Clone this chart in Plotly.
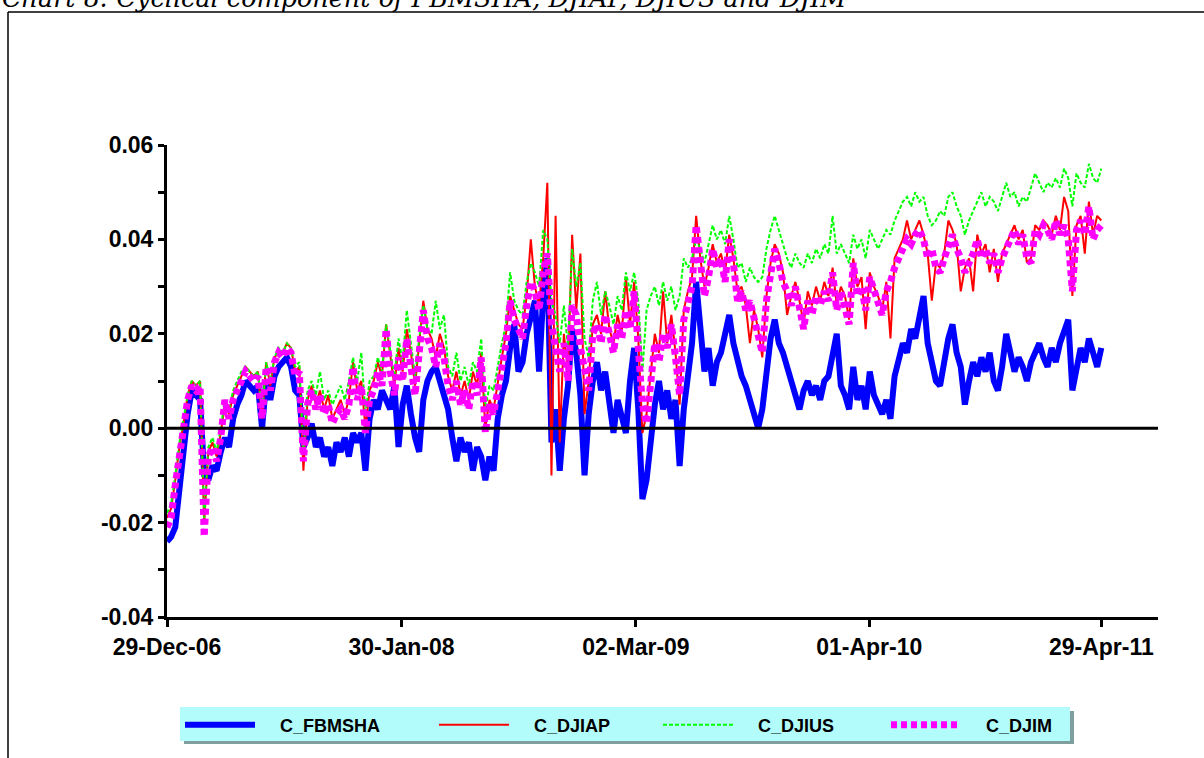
import plotly.graph_objects as go
import pandas as pd

# ---------------- data ----------------
start_date = "2006-12-29"
n_weeks = 227
dates = pd.date_range(start_date, periods=n_weeks, freq="7D")

tick_dates = ["2006-12-29", "2008-01-30", "2009-03-02", "2010-04-01", "2011-04-29"]
tick_labels = ["29-Dec-06", "30-Jan-08", "02-Mar-09", "01-Apr-10", "29-Apr-11"]
y_tick_vals = [-0.04, -0.02, 0.0, 0.02, 0.04, 0.06]
y_tick_labels = ["-0.04", "-0.02", "0.00", "0.02", "0.04", "0.06"]
series_names = ["C_FBMSHA", "C_DJIAP", "C_DJIUS", "C_DJIM"]

c_fbmsha = [
    -0.024, -0.023, -0.021, -0.012, -0.003, 0.003, 0.008, 0.007, 0.006, -0.010,
    -0.011, -0.008, -0.009, -0.005, -0.002, -0.004, 0.002, 0.005, 0.007, 0.010,
    0.009, 0.008, 0.009, 0.000, 0.010, 0.006, 0.011, 0.013, 0.014, 0.015,
    0.013, 0.008, 0.007, -0.004, -0.002, 0.001, -0.004, -0.002, -0.006, -0.004,
    -0.008, -0.003, -0.005, -0.002, -0.006, -0.001, -0.003, -0.001, -0.009, 0.002,
    0.006, 0.004, 0.008, 0.006, 0.004, 0.009, -0.004, 0.005, 0.009, 0.003,
    -0.002, -0.005, 0.006, 0.010, 0.012, 0.013, 0.010, 0.008, 0.004, -0.002,
    -0.007, -0.002, -0.005, -0.003, -0.009, -0.004, -0.006, -0.011, -0.006, -0.009,
    0.002, 0.007, 0.010, 0.017, 0.022, 0.012, 0.014, 0.020, 0.024, 0.027,
    0.012, 0.028, 0.036, -0.003, 0.004, -0.009, 0.002, 0.009, 0.021, 0.016,
    0.007, -0.010, 0.003, 0.010, 0.014, 0.008, 0.012, 0.005, -0.001, 0.006,
    0.003, -0.001, 0.010, 0.017, 0.004, -0.015, -0.011, -0.002, 0.005, 0.010,
    0.004, 0.008, 0.002, 0.006, -0.008, 0.004, 0.010, 0.018, 0.031, 0.020,
    0.012, 0.017, 0.009, 0.014, 0.016, 0.020, 0.024, 0.018, 0.014, 0.011,
    0.009, 0.006, 0.003, 0.000, 0.004, 0.012, 0.019, 0.023, 0.018, 0.016,
    0.013, 0.009, 0.006, 0.004, 0.008, 0.010, 0.007, 0.009, 0.006, 0.010,
    0.011, 0.016, 0.020, 0.009, 0.007, 0.004, 0.013, 0.006, 0.009, 0.004,
    0.012, 0.007, 0.005, 0.003, 0.006, 0.002, 0.011, 0.015, 0.018, 0.016,
    0.021, 0.019, 0.023, 0.028, 0.018, 0.014, 0.010, 0.009, 0.015, 0.019,
    0.022, 0.016, 0.013, 0.005, 0.010, 0.014, 0.011, 0.015, 0.012, 0.016,
    0.010, 0.008, 0.013, 0.020, 0.016, 0.012, 0.015, 0.013, 0.010, 0.014,
    0.016, 0.018, 0.015, 0.013, 0.017, 0.014, 0.018, 0.021, 0.023, 0.008,
    0.013, 0.017, 0.014, 0.019, 0.016, 0.013, 0.017,
]

c_djiap = [
    -0.019, -0.017, -0.011, -0.004, 0.001, 0.007, 0.010, 0.009, 0.010, -0.020,
    -0.005, -0.003, -0.006, -0.001, 0.005, 0.003, 0.007, 0.009, 0.011, 0.013,
    0.012, 0.011, 0.012, 0.002, 0.014, 0.009, 0.015, 0.016, 0.016, 0.018,
    0.017, 0.012, 0.013, -0.009, 0.006, 0.009, 0.005, 0.008, 0.004, 0.007,
    0.002, 0.004, 0.006, 0.003, 0.006, 0.014, 0.008, 0.010, 0.000, 0.008,
    0.010, 0.014, 0.011, 0.022, 0.015, 0.009, 0.017, 0.012, 0.021, 0.016,
    0.009, 0.018, 0.027, 0.021, 0.019, 0.015, 0.020, 0.017, 0.011, 0.008,
    0.012, 0.007, 0.010, 0.006, 0.012, 0.009, 0.016, 0.000, 0.006, 0.004,
    0.010, 0.015, 0.020, 0.028, 0.025, 0.022, 0.021, 0.028, 0.040, 0.030,
    0.026, 0.036, 0.052, -0.010, 0.045, -0.003, 0.020, 0.012, 0.041, 0.025,
    0.037, 0.003, 0.010, 0.022, 0.024, 0.020, 0.029, 0.021, 0.018, 0.024,
    0.020, 0.032, 0.022, 0.031, 0.019, -0.001, 0.003, 0.012, 0.020, 0.016,
    0.029, 0.018, 0.024, 0.016, 0.005, 0.025, 0.029, 0.032, 0.045, 0.036,
    0.030, 0.034, 0.039, 0.035, 0.037, 0.033, 0.041, 0.036, 0.029, 0.030,
    0.026, 0.018, 0.025, 0.021, 0.015, 0.028, 0.035, 0.039, 0.037, 0.033,
    0.024, 0.028, 0.031, 0.027, 0.022, 0.029, 0.026, 0.030, 0.027, 0.031,
    0.028, 0.034, 0.026, 0.030, 0.028, 0.023, 0.036, 0.030, 0.032, 0.021,
    0.033, 0.030, 0.028, 0.025, 0.031, 0.019, 0.036, 0.038, 0.040, 0.044,
    0.040, 0.042, 0.044, 0.041, 0.037, 0.027, 0.035, 0.034, 0.037, 0.044,
    0.042, 0.039, 0.029, 0.034, 0.036, 0.029, 0.041, 0.037, 0.039, 0.033,
    0.038, 0.031, 0.037, 0.039, 0.041, 0.043, 0.040, 0.042, 0.035, 0.036,
    0.043, 0.042, 0.044, 0.043, 0.041, 0.045, 0.042, 0.049, 0.046, 0.028,
    0.043, 0.045, 0.037, 0.048, 0.041, 0.045, 0.044,
]

c_djius = [
    -0.018, -0.016, -0.010, -0.003, 0.002, 0.007, 0.010, 0.009, 0.010, -0.019,
    -0.004, -0.002, -0.005, 0.000, 0.006, 0.004, 0.008, 0.010, 0.012, 0.013,
    0.012, 0.011, 0.012, 0.003, 0.014, 0.010, 0.015, 0.017, 0.016, 0.018,
    0.017, 0.013, 0.014, -0.005, 0.008, 0.010, 0.007, 0.012, 0.006, 0.008,
    0.005, 0.007, 0.009, 0.006, 0.010, 0.015, 0.010, 0.016, 0.003, 0.010,
    0.011, 0.015, 0.012, 0.022, 0.016, 0.011, 0.019, 0.014, 0.025, 0.018,
    0.011, 0.019, 0.026, 0.021, 0.020, 0.027, 0.021, 0.024, 0.013, 0.011,
    0.016, 0.010, 0.013, 0.009, 0.014, 0.012, 0.019, 0.004, 0.009, 0.008,
    0.013, 0.018, 0.022, 0.033, 0.027, 0.025, 0.024, 0.031, 0.035, 0.033,
    0.030, 0.042, 0.040, 0.027, 0.024, 0.018, 0.026, 0.017, 0.038, 0.030,
    0.035, 0.019, 0.015, 0.027, 0.031, 0.024, 0.029, 0.026, 0.022, 0.028,
    0.025, 0.033, 0.029, 0.033, 0.027, 0.012, 0.025, 0.028, 0.030, 0.026,
    0.031, 0.027, 0.030, 0.025, 0.028, 0.036, 0.034, 0.036, 0.040, 0.038,
    0.035, 0.039, 0.043, 0.040, 0.042, 0.039, 0.045, 0.040, 0.034, 0.035,
    0.031, 0.034, 0.032, 0.031, 0.032, 0.038, 0.042, 0.045, 0.042, 0.039,
    0.036, 0.034, 0.037, 0.035, 0.034, 0.037, 0.035, 0.038, 0.036, 0.039,
    0.037, 0.045, 0.037, 0.039, 0.037, 0.035, 0.041, 0.038, 0.040, 0.036,
    0.042, 0.040, 0.038, 0.040, 0.042, 0.041, 0.044, 0.046, 0.048, 0.049,
    0.047, 0.050, 0.048, 0.049, 0.045, 0.043, 0.044, 0.046, 0.045, 0.049,
    0.050, 0.047, 0.045, 0.041, 0.044, 0.046, 0.048, 0.050, 0.047, 0.049,
    0.048, 0.046, 0.049, 0.052, 0.049, 0.050, 0.047, 0.049, 0.048, 0.051,
    0.054, 0.052, 0.050, 0.052, 0.051, 0.053, 0.051, 0.055, 0.053, 0.047,
    0.054, 0.052, 0.051, 0.056, 0.053, 0.052, 0.055,
]

c_djim = [
    -0.021, -0.019, -0.012, -0.005, 0.000, 0.006, 0.009, 0.008, 0.009, -0.023,
    -0.006, -0.004, -0.007, -0.002, 0.006, 0.002, 0.006, 0.008, 0.010, 0.012,
    0.011, 0.010, 0.011, 0.002, 0.013, 0.008, 0.014, 0.016, 0.015, 0.017,
    0.016, 0.011, 0.012, -0.007, 0.005, 0.008, 0.004, 0.007, 0.003, 0.005,
    0.001, 0.003, 0.004, 0.002, 0.005, 0.013, 0.006, 0.009, -0.001, 0.006,
    0.008, 0.012, 0.009, 0.021, 0.012, 0.007, 0.015, 0.010, 0.019, 0.014,
    0.007, 0.016, 0.025, 0.019, 0.017, 0.013, 0.018, 0.015, 0.009, 0.006,
    0.010, 0.005, 0.008, 0.004, 0.010, 0.007, 0.015, -0.001, 0.005, 0.003,
    0.009, 0.013, 0.018, 0.027, 0.023, 0.021, 0.019, 0.026, 0.031, 0.029,
    0.025, 0.033, 0.037, 0.022, 0.016, 0.012, 0.018, 0.010, 0.026, 0.024,
    0.017, 0.013, 0.008, 0.020, 0.022, 0.018, 0.024, 0.020, 0.016, 0.022,
    0.019, 0.025, 0.021, 0.029, 0.018, 0.005, 0.001, 0.010, 0.018, 0.014,
    0.020, 0.017, 0.022, 0.015, 0.007, 0.023, 0.027, 0.030, 0.043, 0.035,
    0.028, 0.032, 0.038, 0.034, 0.036, 0.031, 0.040, 0.035, 0.027, 0.029,
    0.025, 0.027, 0.023, 0.019, 0.016, 0.027, 0.033, 0.038, 0.035, 0.031,
    0.029, 0.026, 0.030, 0.025, 0.021, 0.027, 0.024, 0.028, 0.026, 0.029,
    0.027, 0.033, 0.025, 0.029, 0.026, 0.022, 0.035, 0.028, 0.030, 0.025,
    0.032, 0.029, 0.027, 0.024, 0.029, 0.031, 0.034, 0.036, 0.038, 0.040,
    0.039, 0.041, 0.042, 0.040, 0.036, 0.038, 0.034, 0.033, 0.036, 0.039,
    0.041, 0.038, 0.036, 0.033, 0.035, 0.037, 0.040, 0.036, 0.038, 0.035,
    0.037, 0.033, 0.036, 0.038, 0.040, 0.042, 0.039, 0.041, 0.036, 0.035,
    0.042, 0.041, 0.043, 0.042, 0.040, 0.044, 0.041, 0.043, 0.040, 0.029,
    0.042, 0.044, 0.041, 0.047, 0.040, 0.042, 0.043,
]

# ---------------- geometry (pixels) ----------------
W, H = 1204, 758
PL, PR, PT, PB = 167, 1158, 145, 617


def px(x):
    return (x - PL) / (PR - PL)


def py(y):
    return (PB - y) / (PB - PT)


tick_font = dict(family="Liberation Sans, Arial, sans-serif", size=23, color="black", weight="bold")
leg_font = dict(family="Liberation Sans, Arial, sans-serif", size=18, color="black", weight="bold")

styles = [
    dict(color="#0000FF", width=6),
    dict(color="#FF0000", width=2),
    dict(color="#00FF00", width=2, dash="4px,2px"),
    dict(color="#FF00FF", width=7, dash="6px,4px"),
]
series = [c_fbmsha, c_djiap, c_djius, c_djim]
legend_ids = ["legend", "legend2", "legend3", "legend4"]
legend_x = [180, 434, 658, 886]
PAD = "\u00a0\u00a0\u00a0\u00a0"

fig = go.Figure()
for name, vals, st, lid in zip(series_names, series, styles, legend_ids):
    fig.add_trace(go.Scatter(x=dates, y=vals, mode="lines", name=PAD + name,
                             line=st, legend=lid))

legend_common = dict(yanchor="middle", xanchor="left", orientation="h",
                     bgcolor="rgba(0,0,0,0)", borderwidth=0, itemwidth=70,
                     font=leg_font)
layout_legends = {}
for lid, lx in zip(legend_ids, legend_x):
    layout_legends[lid] = dict(x=px(lx), y=py(725), **legend_common)

shapes = [
    # legend shadow and box
    dict(type="rect", xref="paper", yref="paper", x0=px(184), x1=px(1074),
         y0=py(744), y1=py(711), fillcolor="#7F9F9F", line=dict(width=0), layer="below"),
    dict(type="rect", xref="paper", yref="paper", x0=px(180), x1=px(1070),
         y0=py(741), y1=py(707), fillcolor="#B3FCFC", line=dict(width=0), layer="below"),
    # chart frame
    dict(type="line", xref="paper", yref="paper", x0=px(8), x1=px(8),
         y0=py(12), y1=py(770), line=dict(color="black", width=1.5)),
    dict(type="line", xref="paper", yref="paper", x0=px(8), x1=px(1215),
         y0=py(12), y1=py(12), line=dict(color="black", width=1.5)),
    # zero line on top of data
    dict(type="line", xref="paper", yref="y", x0=0, x1=1, y0=0, y1=0,
         line=dict(color="black", width=3), layer="above"),
]

fig.update_layout(
    width=W, height=H,
    margin=dict(l=PL, r=W - PR, t=PT, b=H - PB, autoexpand=False),
    paper_bgcolor="white", plot_bgcolor="white",
    shapes=shapes,
    annotations=[dict(
        text="Chart 8: Cyclical component of FBMSHA, DJIAP, DJIUS and DJIM",
        xref="paper", yref="paper", x=px(0), y=py(-2), xanchor="left", yanchor="middle",
        showarrow=False, font=dict(family="DejaVu Serif", size=25.5, style="italic", color="black"),
    )],
    xaxis=dict(
        type="date", range=[start_date, "2011-08-03"],
        tickvals=tick_dates, ticktext=tick_labels,
        ticks="outside", ticklen=7, tickwidth=3, tickcolor="black",
        showline=True, linewidth=3, linecolor="black",
        showgrid=False, zeroline=False, tickfont=tick_font,
    ),
    yaxis=dict(
        range=[-0.04, 0.06], tickvals=y_tick_vals, ticktext=y_tick_labels,
        ticks="outside", ticklen=6, tickwidth=3, tickcolor="black",
        showline=True, linewidth=3, linecolor="black",
        showgrid=False, zeroline=False, tickfont=tick_font,
        minor=dict(tick0=0, dtick=0.01, ticks="outside", ticklen=6, tickwidth=3,
                   tickcolor="black", showgrid=False),
    ),
    showlegend=True,
    **layout_legends,
)

fig.write_html(
    "out.html",
    config={"displayModeBar": False},
    post_script="document.body.style.margin='0';document.body.style.overflow='hidden';",
)
